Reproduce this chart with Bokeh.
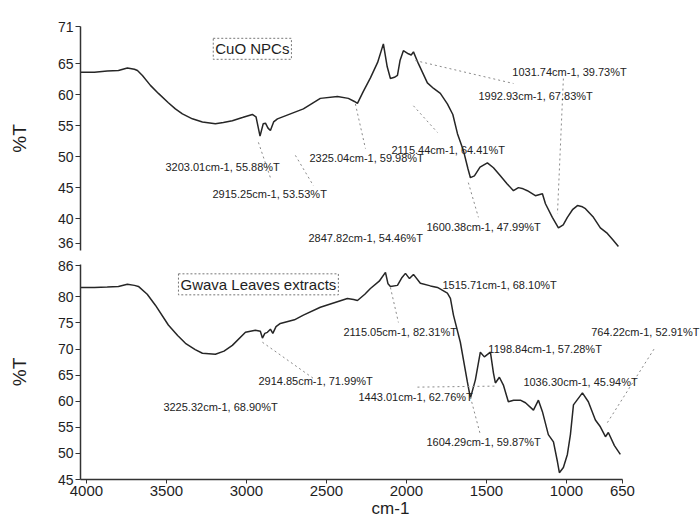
from bokeh.plotting import figure
from bokeh.layouts import column
from bokeh.models import Range1d, FixedTicker, Label
from bokeh.embed import file_html
from bokeh.resources import INLINE

FONT = "Liberation Sans"

# ---------------- data ----------------
cuo_wavenumber = [4037, 3950, 3870, 3800, 3744, 3700, 3681, 3650, 3600, 3550, 3488, 3444,
                  3400, 3338, 3275, 3194, 3144, 3088, 3025, 2963, 2940, 2915, 2895, 2881,
                  2865, 2850, 2830, 2806, 2725, 2644, 2538, 2431, 2363, 2325, 2306, 2270,
                  2225, 2180, 2144, 2120, 2100, 2075, 2056, 2040, 2019, 1988, 1970, 1956,
                  1925, 1869, 1830, 1788, 1744, 1710, 1681, 1644, 1615, 1600, 1575, 1540,
                  1494, 1456, 1413, 1370, 1331, 1300, 1270, 1244, 1194, 1150, 1131, 1088,
                  1050, 1020, 994, 960, 931, 900, 881, 831, 788, 744, 710, 675]
cuo_T = [63.6, 63.6, 63.8, 63.9, 64.3, 64.1, 63.9, 63.1, 61.5, 60.2, 58.7, 57.7,
         56.9, 56.1, 55.6, 55.3, 55.5, 55.8, 56.3, 56.8, 56.4, 53.3, 55.3, 55.4,
         54.6, 54.2, 55.6, 56.1, 56.9, 57.7, 59.4, 59.7, 59.4, 58.9, 58.6, 60.5,
         62.7, 65.2, 68.2, 64.5, 62.6, 62.8, 63.1, 65.5, 67.1, 66.6, 66.4, 66.9,
         65.0, 61.9, 61.0, 60.2, 58.5, 56.8, 53.7, 51.0, 48.0, 46.6, 46.9, 48.3,
         49.0, 48.2, 46.9, 45.6, 44.5, 45.0, 44.8, 44.5, 43.7, 44.0, 42.4, 40.2,
         38.5, 39.0, 40.2, 41.5, 42.1, 41.9, 41.6, 40.2, 38.5, 37.6, 36.6, 35.5]

gwava_wavenumber = [4037, 3950, 3870, 3800, 3744, 3700, 3675, 3620, 3569, 3488, 3430, 3381,
                    3320, 3275, 3194, 3140, 3088, 3006, 2944, 2913, 2900, 2885, 2869, 2850,
                    2835, 2815, 2788, 2700, 2644, 2538, 2369, 2330, 2306, 2260, 2225, 2170,
                    2131, 2115, 2100, 2056, 2030, 2006, 1981, 1956, 1913, 1850, 1806, 1744,
                    1725, 1706, 1663, 1619, 1600, 1569, 1538, 1513, 1475, 1456, 1444, 1419,
                    1394, 1363, 1330, 1288, 1256, 1206, 1175, 1150, 1113, 1081, 1056, 1044,
                    1019, 994, 975, 956, 900, 863, 819, 788, 756, 738, 700, 663]
gwava_T = [81.8, 81.8, 81.9, 82.0, 82.4, 82.2, 82.0, 80.5, 78.4, 74.6, 72.6, 71.1,
           69.9, 69.2, 69.0, 69.6, 70.7, 73.2, 73.6, 73.4, 72.1, 73.0, 73.2, 73.8,
           73.0, 74.3, 74.9, 75.6, 76.5, 78.0, 79.7, 79.5, 79.3, 80.5, 81.6, 83.0,
           84.7, 82.5, 82.0, 82.2, 83.6, 84.5, 83.5, 84.3, 82.6, 82.1, 81.8, 80.7,
           79.7, 76.5, 71.3, 63.7, 60.6, 64.1, 69.4, 68.5, 69.4, 65.4, 63.5, 64.6,
           63.1, 59.9, 60.2, 60.2, 59.7, 58.3, 60.2, 58.0, 53.6, 52.2, 48.4, 46.3,
           47.3, 49.8, 53.6, 59.3, 61.6, 59.9, 56.4, 55.1, 53.2, 54.0, 51.5, 49.8]

x_ticks = [4000, 3500, 3000, 2500, 2000, 1500, 1000, 650]
cuo_y_ticks = [36, 40, 45, 50, 55, 60, 65, 71]
gwava_y_ticks = [45, 50, 55, 60, 65, 70, 75, 80, 86]

cuo_title = "CuO NPCs"
gwava_title = "Gwava Leaves extracts"

# peak annotations: text, wavenumber, %T
cuo_notes = ["3203.01cm-1, 55.88%T", "2915.25cm-1, 53.53%T", "2325.04cm-1, 59.98%T",
             "2847.82cm-1, 54.46%T", "2115.44cm-1, 64.41%T", "1600.38cm-1, 47.99%T",
             "1031.74cm-1, 39.73%T", "1992.93cm-1, 67.83%T"]
cuo_note_x = [3506, 3212, 2606, 2612, 2094, 1875, 1338, 1550]
cuo_note_y = [48.4, 44.0, 49.8, 36.8, 51.1, 38.7, 63.7, 59.8]

gwava_notes = ["3225.32cm-1, 68.90%T", "2914.85cm-1, 71.99%T", "2115.05cm-1, 82.31%T",
               "1515.71cm-1, 68.10%T", "1198.84cm-1, 57.28%T", "764.22cm-1, 52.91%T",
               "1443.01cm-1, 62.76%T", "1036.30cm-1, 45.94%T", "1604.29cm-1, 59.87%T"]
gwava_note_x = [3519, 2925, 2394, 1775, 1488, 845, 2300, 1269, 1875]
gwava_note_y = [58.9, 63.9, 73.2, 82.2, 70.0, 73.2, 60.8, 63.7, 52.1]

# dotted leader lines
cuo_lead_x0 = [2925, 2694, 2319, 1956, 1944, 1019, 1613]
cuo_lead_y0 = [52.3, 50.2, 58.5, 58.2, 65.5, 62.6, 45.8]
cuo_lead_x1 = [2850, 2581, 2256, 1806, 1331, 1056, 1550]
cuo_lead_y1 = [46.6, 45.3, 51.3, 53.9, 61.8, 40.8, 40.2]

gwava_lead_x0 = [2900, 2100, 1931, 1600, 744]
gwava_lead_y0 = [71.3, 81.8, 62.7, 60.8, 55.9]
gwava_lead_x1 = [2569, 2050, 1431, 1538, 444]
gwava_lead_y1 = [64.1, 75.1, 62.9, 53.6, 70.4]

# ---------------- figures ----------------
# frame runs to the right edge so that notes past 650 cm-1 stay visible;
# the x axis itself is bounded to 4037..650
x_range = Range1d(4037, 162)
LINE = "#262626"


def style(p, yticks):
    p.outline_line_color = None
    p.grid.visible = False
    p.background_fill_color = "white"
    p.border_fill_color = "white"
    for ax in p.yaxis:
        ax.ticker = FixedTicker(ticks=yticks)
        ax.major_label_text_font = FONT
        ax.major_label_text_font_size = "14px"
        ax.major_label_text_color = "#1e1e1e"
        ax.major_tick_out = 5
        ax.major_tick_in = 0
        ax.minor_tick_out = 0
        ax.minor_tick_in = 0
        ax.major_label_standoff = 2
        ax.axis_line_width = 1.5
        ax.axis_line_color = "#333333"
        ax.major_tick_line_color = "#333333"
        ax.axis_label = "%T"
        ax.axis_label_text_font = FONT
        ax.axis_label_text_font_size = "19px"
        ax.axis_label_text_font_style = "normal"
        ax.axis_label_text_color = "#1e1e1e"
        ax.axis_label_standoff = 25


def annotate(p, title, notes, nx, ny, lx0, ly0, lx1, ly1, tx, ty):
    p.segment(x0=lx0, y0=ly0, x1=lx1, y1=ly1, line_color="#8a8a8a",
              line_width=1, line_dash="2 3")
    for t, x, y in zip(notes, nx, ny):
        p.add_layout(Label(x=x, y=y, text=t, text_font=FONT, text_font_size="11px",
                           text_color="#222222", text_align="left",
                           text_baseline="middle"))
    p.add_layout(Label(x=tx, y=ty, text=title, text_font=FONT, text_font_size="15px",
                       text_color="#1e1e1e", text_align="center", text_baseline="middle",
                       border_line_color="#777777", border_line_dash="2 2",
                       border_line_width=1, background_fill_color="white",
                       padding=2))


top = figure(width=700, height=258, x_range=x_range, y_range=Range1d(34.85, 71),
             output_backend="svg", toolbar_location=None, x_axis_location=None,
             min_border_left=80, min_border_right=0, min_border_top=26,
             min_border_bottom=8)
top.line(cuo_wavenumber, cuo_T, line_color=LINE, line_width=1.5)
style(top, cuo_y_ticks)
annotate(top, cuo_title, cuo_notes, cuo_note_x, cuo_note_y,
         cuo_lead_x0, cuo_lead_y0, cuo_lead_x1, cuo_lead_y1, 2963, 67.4)

bot = figure(width=700, height=262, x_range=x_range, y_range=Range1d(45, 86.2),
             output_backend="svg", toolbar_location=None,
             min_border_left=80, min_border_right=0, min_border_top=6,
             min_border_bottom=0)
bot.line(gwava_wavenumber, gwava_T, line_color=LINE, line_width=1.5)
style(bot, gwava_y_ticks)
xa = bot.xaxis[0]
xa.bounds = (650, 4037)
xa.ticker = FixedTicker(ticks=x_ticks)
xa.major_label_text_font = FONT
xa.major_label_text_font_size = "15px"
xa.major_label_text_color = "#1e1e1e"
xa.major_tick_out = 4
xa.major_tick_in = 0
xa.minor_tick_out = 0
xa.minor_tick_in = 0
xa.major_label_standoff = 2
xa.axis_line_width = 1.5
xa.axis_line_color = "#333333"
xa.major_tick_line_color = "#333333"
xa.axis_label = "cm-1"
xa.axis_label_text_font = FONT
xa.axis_label_text_font_size = "17px"
xa.axis_label_text_font_style = "normal"
xa.axis_label_text_color = "#1e1e1e"
xa.axis_label_standoff = 0
annotate(bot, gwava_title, gwava_notes, gwava_note_x, gwava_note_y,
         gwava_lead_x0, gwava_lead_y0, gwava_lead_x1, gwava_lead_y1, 2925, 82.4)

layout = column(top, bot, spacing=0)
open("out.html", "w").write(file_html(layout, INLINE))
